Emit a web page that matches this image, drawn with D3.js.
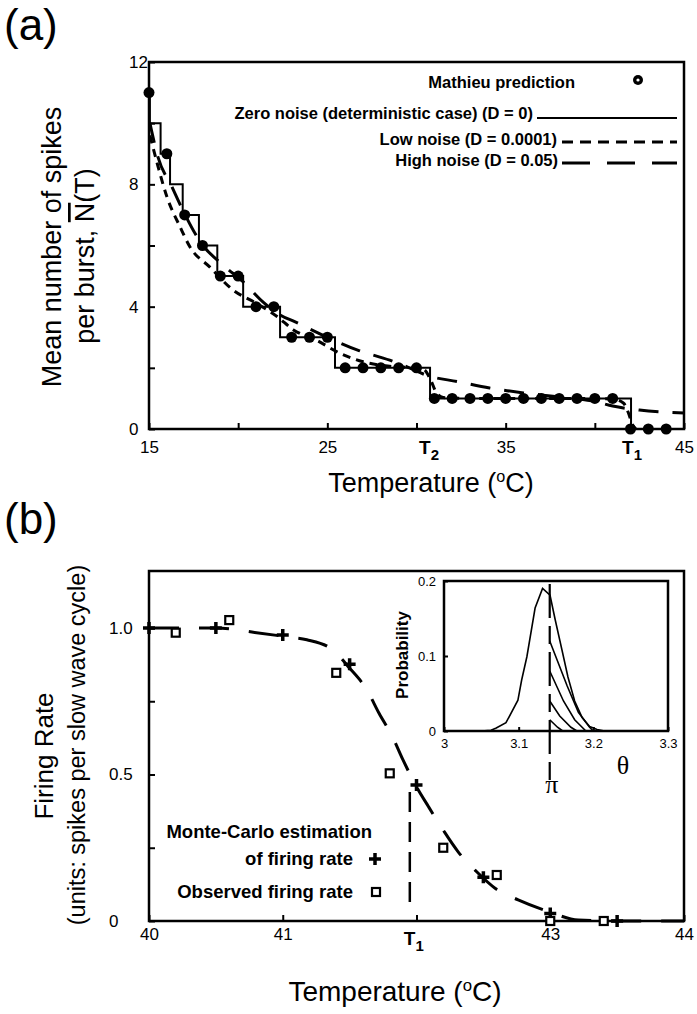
<!DOCTYPE html>
<html>
<head>
<meta charset="utf-8">
<script src="https://cdn.jsdelivr.net/npm/d3@7"></script>
<style>
  body { margin: 0; background: #fff; }
  text { font-family: "Liberation Sans", Arial, sans-serif; fill: #000; }
</style>
</head>
<body>
<svg id="chart" width="697" height="1014"></svg>
<script>
// ======= (a) spikes per burst vs temperature =======

const mathieuT = [15, 16, 17, 18, 19, 20, 21, 22, 23, 24, 25, 26, 27, 28, 29, 30,
  31, 32, 33, 34, 35, 36, 37, 38, 39, 40, 41, 42, 43, 44]
const mathieuN = [11, 9, 7, 6, 5, 5, 4, 4, 3, 3, 3, 2, 2, 2, 2, 2,
  1, 1, 1, 1, 1, 1, 1, 1, 1, 1, 1, 0, 0, 0]

// zero noise: level starts at zeroT[i]
const zeroT = [15, 15.05, 15.65, 16.18, 16.89, 17.8, 18.83, 20.28, 22.35, 25.43, 30.76, 42.03]
const zeroN = [11, 10, 9, 8, 7, 6, 5, 4, 3, 2, 1, 0]

const lowT = [15.05, 15.5, 16.0, 16.75, 17.3, 18.4, 19.7, 21.05, 22.2, 23.1, 24.4, 25.7,
  27.0, 28.5, 29.8, 30.4, 30.8, 31.1, 31.5, 33, 35, 37, 39, 41, 41.6, 41.9, 42.1, 42.3]
const lowN = [9.6, 8.6, 7.6, 6.6, 5.95, 5.3, 4.55, 4.1, 3.67, 3.24, 2.9, 2.48,
  2.2, 2.05, 2.0, 1.95, 1.6, 1.2, 1.03, 1.0, 1.0, 1.0, 1.0, 0.98, 0.85, 0.5, 0.15, 0.0]

const highT = [15.05, 15.5, 16.3, 16.9, 17.9, 19.15, 20.3, 21.4, 22.35, 23.2, 25.0, 26.7,
  28.5, 29.6, 30.6, 32.3, 34.1, 36.0, 38.0, 40.0, 41.0, 42.5, 45]
const highN = [10.0, 8.9, 7.9, 7.15, 6.1, 5.36, 4.8, 4.15, 3.73, 3.5, 3.0, 2.58,
  2.25, 2.0, 1.75, 1.55, 1.34, 1.18, 1.05, 0.9, 0.75, 0.62, 0.52]

const T2a = 30.76
const T1a = 42.03

const xTicksA = [15, 20, 25, 30, 35, 40, 45]
const xLabelsA = ['15', '', '25', '', '35', '', '45']
const yTicksA = [0, 2, 4, 6, 8, 10, 12]
const yLabelsA = ['0', '', '4', '', '8', '', '12']

// ======= (b) firing rate vs temperature =======

const mcT = [40.0, 40.5, 41.0, 41.5, 42.0, 42.5, 43.0, 43.5]
const mcRate = [1.0, 1.0, 0.976, 0.876, 0.464, 0.149, 0.026, 0.0]
const obsT = [40.2, 40.6, 41.4, 41.8, 42.2, 42.6, 43.0, 43.4]
const obsRate = [0.984, 1.027, 0.847, 0.504, 0.25, 0.157, 0.0, 0.0]

const fitT = [40.0, 40.5, 40.79, 41.03, 41.18, 41.37, 41.49, 41.63, 41.72, 41.82, 41.9,
  42.0, 42.09, 42.2, 42.31, 42.45, 42.59, 42.76, 42.99, 43.21, 43.5, 44.0]
const fitRate = [1.0, 1.0, 0.985, 0.97, 0.96, 0.927, 0.868, 0.788, 0.709, 0.629, 0.549,
  0.458, 0.39, 0.31, 0.237, 0.168, 0.111, 0.072, 0.032, 0.003, 0.0, 0.0]

const T1b = 41.95

const xTicksB = [40, 41, 42, 43, 44]
const xLabelsB = ['40', '41', '', '43', '44']
const yTicksB = [0, 0.25, 0.5, 0.75, 1.0]
const yLabelsB = ['0', '', '0.5', '', '1.0']

// inset: phase distribution
const densTheta = [3.05, 3.063, 3.07, 3.083, 3.099, 3.104, 3.111, 3.122, 3.132, 3.142,
  3.149, 3.158, 3.166, 3.175, 3.185, 3.195, 3.205, 3.215]
const densP = [0, 0.001, 0.004, 0.011, 0.041, 0.068, 0.099, 0.164, 0.19, 0.181,
  0.148, 0.108, 0.072, 0.04, 0.018, 0.006, 0.002, 0]
const hatchTheta = [
  [3.1416, 3.165, 3.18, 3.195, 3.2],
  [3.1416, 3.16, 3.175, 3.19],
  [3.1416, 3.155, 3.17, 3.178],
  [3.1416, 3.152, 3.159]
]
const hatchP = [
  [0.12, 0.06, 0.025, 0.005, 0],
  [0.08, 0.04, 0.015, 0],
  [0.04, 0.02, 0.005, 0],
  [0.015, 0.005, 0]
]
const xTicksI = [3, 3.1, 3.2, 3.3]
const xLabelsI = ['3', '3.1', '3.2', '3.3']
const yTicksI = [0, 0.1, 0.2]
const yLabelsI = ['0', '0.1', '0.2']

const svg = d3.select('#chart')

function plainAxis (g, fs) {
  g.attr('font-size', null).attr('font-family', null)
  g.select('.domain').remove()
  g.selectAll('.tick line').attr('stroke-width', 2)
  g.selectAll('.tick text').style('font-size', fs + 'px')
}

function tLabel (g, x, y, sub) {
  const t = g.append('text')
    .attr('x', x).attr('y', y)
    .attr('text-anchor', 'middle')
    .style('font-weight', 'bold').style('font-size', '19px')
  t.append('tspan').text('T')
  t.append('tspan').attr('dy', 6).style('font-size', '15px').text(sub)
}

function tempLabel (g, x, y, fs) {
  const t = g.append('text')
    .attr('x', x).attr('y', y)
    .attr('text-anchor', 'middle')
    .style('font-size', fs + 'px')
  t.append('tspan').text('Temperature (')
  t.append('tspan').attr('dy', -10).style('font-size', (fs * 0.6) + 'px').text('o')
  t.append('tspan').attr('dy', 10).text('C)')
}

// ---------- panel (a) ----------
const wA = 535
const hA = 367
const gA = svg.append('g').attr('transform', 'translate(149, 62)')

const xA = d3.scaleLinear().domain([15, 45]).range([0, wA])
const yA = d3.scaleLinear().domain([0, 12]).range([hA, 0])

gA.append('g')
  .attr('transform', `translate(0, ${hA})`)
  .call(d3.axisBottom(xA).tickValues(xTicksA).tickSize(-6).tickPadding(12)
    .tickFormat((d, i) => xLabelsA[i]))
  .call(g => plainAxis(g, 17))

gA.append('g')
  .call(d3.axisLeft(yA).tickValues(yTicksA).tickSize(-6)
    .tickFormat((d, i) => yLabelsA[i]))
  .call(g => plainAxis(g, 17))
  .selectAll('.tick text').attr('text-anchor', 'start').attr('x', -20)

gA.append('rect')
  .attr('width', wA).attr('height', hA)
  .attr('fill', 'none').attr('stroke', '#000').attr('stroke-width', 2.5)

tLabel(gA, xA(T2a) - 1, 392, '2')
tLabel(gA, xA(T1a) + 1, 392, '1')

const zeroLine = d3.line().curve(d3.curveStepAfter)
  .x(d => xA(d[0])).y(d => yA(d[1]))
const smooth = d3.line().curve(d3.curveMonotoneX)
  .x(d => xA(d[0])).y(d => yA(d[1]))

gA.append('path')
  .datum(d3.zip(zeroT, zeroN))
  .attr('d', zeroLine)
  .attr('fill', 'none').attr('stroke', '#000').attr('stroke-width', 2)

gA.append('path')
  .datum(d3.zip(lowT, lowN))
  .attr('d', smooth)
  .attr('fill', 'none').attr('stroke', '#000').attr('stroke-width', 3)
  .attr('stroke-dasharray', '8,6')

gA.append('path')
  .datum(d3.zip(highT, highN))
  .attr('d', smooth)
  .attr('fill', 'none').attr('stroke', '#000').attr('stroke-width', 3)
  .attr('stroke-dasharray', '20,14')

gA.selectAll('circle.m')
  .data(d3.zip(mathieuT, mathieuN))
  .enter()
  .append('circle')
    .attr('class', 'm')
    .attr('cx', d => xA(d[0]))
    .attr('cy', d => yA(d[1]))
    .attr('r', 5.5)

// legend (a)
const legA = svg.append('g').style('font-weight', 'bold').style('font-size', '16.5px')
legA.append('text').attr('x', 575).attr('y', 88).attr('text-anchor', 'end').text('Mathieu prediction')
legA.append('circle').attr('cx', 638).attr('cy', 80).attr('r', 5)
legA.append('circle').attr('cx', 638).attr('cy', 80).attr('r', 1.6).attr('fill', '#fff')
legA.append('text').attr('x', 533).attr('y', 119).attr('text-anchor', 'end').text('Zero noise (deterministic case) (D = 0)')
legA.append('line').attr('x1', 537).attr('x2', 677).attr('y1', 118).attr('y2', 118)
  .attr('stroke', '#000').attr('stroke-width', 2)
legA.append('text').attr('x', 557).attr('y', 145).attr('text-anchor', 'end').text('Low noise (D = 0.0001)')
legA.append('line').attr('x1', 562).attr('x2', 677).attr('y1', 142).attr('y2', 142)
  .attr('stroke', '#000').attr('stroke-width', 3).attr('stroke-dasharray', '11,7')
legA.append('text').attr('x', 558).attr('y', 166).attr('text-anchor', 'end').text('High noise (D = 0.05)')
legA.append('line').attr('x1', 562).attr('x2', 677).attr('y1', 163).attr('y2', 163)
  .attr('stroke', '#000').attr('stroke-width', 3).attr('stroke-dasharray', '28,17')

// axis titles (a)
svg.append('text').attr('x', 4).attr('y', 40).style('font-size', '44px').text('(a)')
svg.append('text')
  .attr('transform', 'translate(61, 247) rotate(-90)')
  .attr('text-anchor', 'middle').style('font-size', '27px')
  .text('Mean number of spikes')
const yl2 = svg.append('text')
  .attr('transform', 'translate(94, 256) rotate(-90)')
  .attr('text-anchor', 'middle').style('font-size', '27px')
yl2.append('tspan').text('per burst, ')
yl2.append('tspan').style('text-decoration', 'overline').text('N')
yl2.append('tspan').text('(T)')
tempLabel(svg, 431, 492, 27)

// ---------- panel (b) ----------
const wB = 535
const hB = 350
const gB = svg.append('g').attr('transform', 'translate(149, 571)')

const xB = d3.scaleLinear().domain([40, 44]).range([0, wB])
const yB = d3.scaleLinear().domain([0, 1]).range([hB, 57])

gB.append('g')
  .attr('transform', `translate(0, ${hB})`)
  .call(d3.axisBottom(xB).tickValues(xTicksB).tickSize(-6).tickPadding(7)
    .tickFormat((d, i) => xLabelsB[i]))
  .call(g => plainAxis(g, 17))

gB.append('g')
  .call(d3.axisLeft(yB).tickValues(yTicksB).tickSize(-6)
    .tickFormat((d, i) => yLabelsB[i]))
  .call(g => plainAxis(g, 17))
  .selectAll('.tick text').attr('text-anchor', 'start').attr('x', -40)

gB.append('rect')
  .attr('width', wB).attr('height', hB)
  .attr('fill', 'none').attr('stroke', '#000').attr('stroke-width', 2.5)

tLabel(gB, xB(T1b) + 4, 374, '1')

gB.append('line')
  .attr('x1', xB(T1b)).attr('x2', xB(T1b))
  .attr('y1', yB(0.44)).attr('y2', yB(0.06))
  .attr('stroke', '#000').attr('stroke-width', 2.5).attr('stroke-dasharray', '20,10')

const fitLine = d3.line().curve(d3.curveMonotoneX)
  .x(d => xB(d[0])).y(d => yB(d[1]))
gB.append('path')
  .datum(d3.zip(fitT, fitRate))
  .attr('d', fitLine)
  .attr('fill', 'none').attr('stroke', '#000').attr('stroke-width', 3)
  .attr('stroke-dasharray', '30,20')

const plusPath = 'M-6,0H6M0,-6V6'
gB.selectAll('path.mc')
  .data(d3.zip(mcT, mcRate))
  .enter()
  .append('path')
    .attr('class', 'mc')
    .attr('transform', d => `translate(${xB(d[0])}, ${yB(d[1])})`)
    .attr('d', plusPath)
    .attr('stroke', '#000').attr('stroke-width', 3.5)

gB.selectAll('rect.obs')
  .data(d3.zip(obsT, obsRate))
  .enter()
  .append('rect')
    .attr('class', 'obs')
    .attr('x', d => xB(d[0]) - 4)
    .attr('y', d => yB(d[1]) - 4)
    .attr('width', 8).attr('height', 8)
    .attr('fill', '#fff').attr('stroke', '#000').attr('stroke-width', 2.2)

// legend (b)
const legB = svg.append('g').style('font-weight', 'bold').style('font-size', '18.5px')
legB.append('text').attr('x', 372).attr('y', 838).attr('text-anchor', 'end').text('Monte-Carlo estimation')
legB.append('text').attr('x', 353).attr('y', 865).attr('text-anchor', 'end').text('of firing rate')
legB.append('path').attr('transform', 'translate(375, 859)').attr('d', plusPath)
  .attr('stroke', '#000').attr('stroke-width', 3.5)
legB.append('text').attr('x', 353).attr('y', 898).attr('text-anchor', 'end').text('Observed firing rate')
legB.append('rect').attr('x', 372).attr('y', 888).attr('width', 8).attr('height', 8)
  .attr('fill', '#fff').attr('stroke', '#000').attr('stroke-width', 2.2)

// ---------- inset ----------
const wI = 224
const hI = 150
const gI = svg.append('g').attr('transform', 'translate(444, 581)')

const xI = d3.scaleLinear().domain([3, 3.3]).range([0, wI])
const yI = d3.scaleLinear().domain([0, 0.2]).range([hI, 0])

gI.append('rect')
  .attr('width', wI).attr('height', hI)
  .attr('fill', '#fff').attr('stroke', '#000').attr('stroke-width', 2.5)

gI.append('g')
  .attr('transform', `translate(0, ${hI})`)
  .call(d3.axisBottom(xI).tickValues(xTicksI).tickSize(-4).tickPadding(8)
    .tickFormat((d, i) => xLabelsI[i]))
  .call(g => plainAxis(g, 13))

gI.append('g')
  .call(d3.axisLeft(yI).tickValues(yTicksI).tickSize(-4).tickPadding(8)
    .tickFormat((d, i) => yLabelsI[i]))
  .call(g => plainAxis(g, 13))

const densLine = d3.line()
  .x(d => xI(d[0])).y(d => yI(d[1]))
gI.append('path')
  .datum(d3.zip(densTheta, densP))
  .attr('d', densLine)
  .attr('fill', 'none').attr('stroke', '#000').attr('stroke-width', 1.6)

hatchTheta.forEach((th, i) => {
  gI.append('path')
    .datum(d3.zip(th, hatchP[i]))
    .attr('d', densLine)
    .attr('fill', 'none').attr('stroke', '#000').attr('stroke-width', 1.6)
})

gI.append('line')
  .attr('x1', xI(Math.PI)).attr('x2', xI(Math.PI))
  .attr('y1', 3).attr('y2', 199)
  .attr('stroke', '#000').attr('stroke-width', 2.2).attr('stroke-dasharray', '34,8,18,8')

svg.append('text')
  .attr('transform', 'translate(408, 655) rotate(-90)')
  .attr('text-anchor', 'middle')
  .style('font-weight', 'bold').style('font-size', '17px')
  .text('Probability')

svg.append('text').attr('x', 444 + xI(Math.PI) + 2).attr('y', 793)
  .attr('text-anchor', 'middle')
  .style('font-family', '"Liberation Serif", serif').style('font-size', '26px')
  .text('\u03C0')
svg.append('text').attr('x', 623).attr('y', 774)
  .attr('text-anchor', 'middle')
  .style('font-family', '"Liberation Serif", serif').style('font-size', '26px')
  .text('\u03B8')

// axis titles (b)
svg.append('text').attr('x', 4).attr('y', 534).style('font-size', '44px').text('(b)')
svg.append('text')
  .attr('transform', 'translate(53, 756) rotate(-90)')
  .attr('text-anchor', 'middle').style('font-size', '26px')
  .text('Firing Rate')
svg.append('text')
  .attr('transform', 'translate(85, 745) rotate(-90)')
  .attr('text-anchor', 'middle').style('font-size', '23.5px')
  .text('(units: spikes per slow wave cycle)')
tempLabel(svg, 395, 1001, 28)
</script>
</body>
</html>
